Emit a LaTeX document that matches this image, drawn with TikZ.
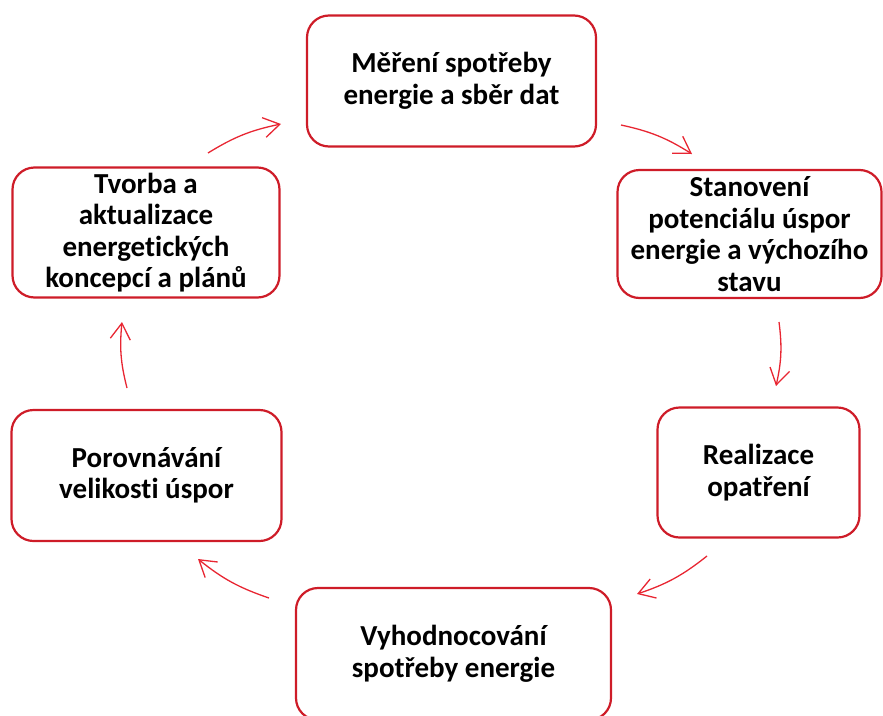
\documentclass[tikz,border=0pt]{standalone}
\usepackage{fontspec}
\setmainfont{Carlito}[Ligatures=NoCommon]
\usetikzlibrary{arrows.meta}
\definecolor{boxred}{RGB}{206,28,40}
\definecolor{arrred}{RGB}{232,38,50}
\tikzset{
  stage/.style={draw=boxred, line width=2.2pt, rounded corners=22pt, fill=white,
    align=center, font=\fontsize{29}{31.5}\selectfont\bfseries, inner sep=0pt},
  flow/.style={draw=arrred, line width=1.3pt,
    -{Straight Barb[length=16pt,width=20pt,line width=1.3pt]}, bend left=10}
}
\begin{document}
\begin{tikzpicture}[x=1pt,y=-1pt]
\useasboundingbox (0,0) rectangle (883,715);
\clip (0,0) rectangle (883,715);
\node[stage, minimum width=289pt, minimum height=131pt] (mer) at (451.5,81) {Měření spotřeby\\energie a sběr dat};
\node[stage, minimum width=264pt, minimum height=128pt] (stan) at (749.5,234) {Stanovení\\potenciálu úspor\\energie a výchozího\\stavu};
\node[stage, minimum width=202pt, minimum height=130pt] (real) at (758.5,472.5) {Realizace\\opatření};
\node[stage, minimum width=315pt, minimum height=132pt] (vyh) at (453.5,654) {Vyhodnocování\\spotřeby energie};
\node[stage, minimum width=270pt, minimum height=131pt] (por) at (146.5,475.5) {Porovnávání\\velikosti úspor};
\node[stage, minimum width=267pt, minimum height=130pt] (tvor) at (146,232.5) {Tvorba a\\aktualizace\\energetických\\koncepcí a plánů};
\coordinate (a1s) at (208,153); \coordinate (a1e) at (281,124);
\coordinate (a2s) at (621,125); \coordinate (a2e) at (692,154);
\coordinate (a3s) at (779,322); \coordinate (a3e) at (776,386);
\coordinate (a4s) at (707,556); \coordinate (a4e) at (637,594);
\coordinate (a5s) at (269,598); \coordinate (a5e) at (198,559);
\coordinate (a6s) at (127,388); \coordinate (a6e) at (122,322);
\draw[flow] (a1s) to (a1e);
\draw[flow] (a2s) to (a2e);
\draw[flow] (a3s) to (a3e);
\draw[flow] (a4s) to (a4e);
\draw[flow] (a5s) to (a5e);
\draw[flow] (a6s) to (a6e);
\end{tikzpicture}
\end{document}
